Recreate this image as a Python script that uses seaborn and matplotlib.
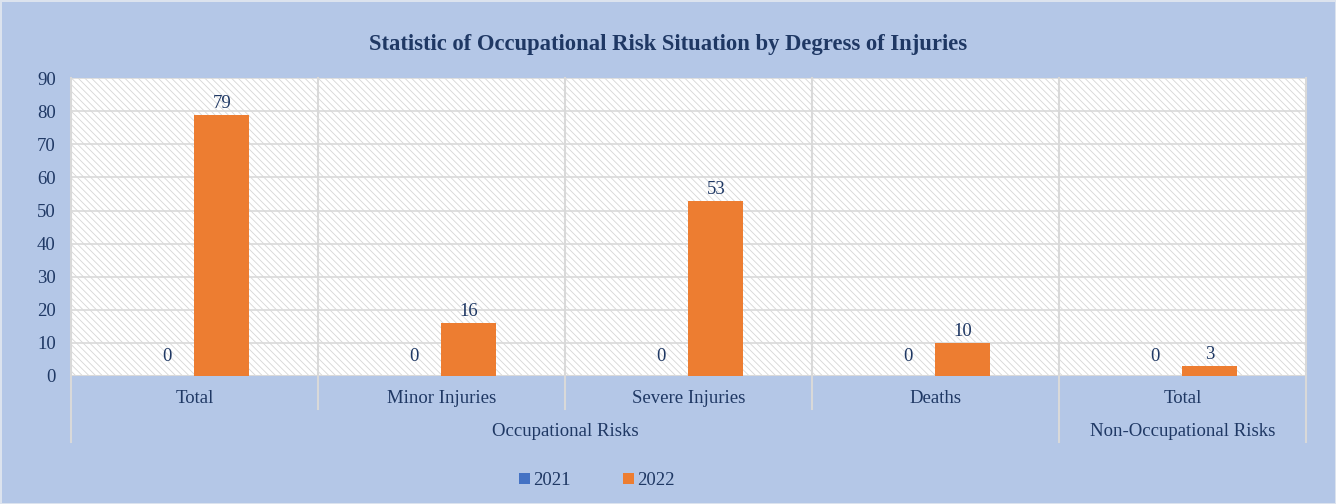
import pandas as pd
import seaborn as sns
import matplotlib.pyplot as plt
from matplotlib.patches import Patch, Rectangle

# Chart data
categories = ['Total', 'Minor Injuries', 'Severe Injuries', 'Deaths', 'Total ']
groups = ['Occupational Risks', 'Non-Occupational Risks']
group_spans = [(0, 3), (4, 4)]
years = ['2021', '2022']
values_2021 = [0, 0, 0, 0, 0]
values_2022 = [79, 16, 53, 10, 3]

bg = '#B4C7E7'
grid_col = '#D9D9D9'
text_col = '#1F3864'
colors = ['#4472C4', '#ED7D31']
fs = 13.5

plt.rcParams['font.family'] = ['Liberation Serif', 'DejaVu Serif']
plt.rcParams['hatch.color'] = '#D6D6D6'
plt.rcParams['hatch.linewidth'] = 0.6

df = pd.DataFrame({
    'category': categories * 2,
    'value': values_2021 + values_2022,
    'year': [years[0]] * len(categories) + [years[1]] * len(categories),
})

fig = plt.figure(figsize=(13.36, 5.04), dpi=100, facecolor=bg)
fig.patch.set_edgecolor('#DCE3EE')
fig.patch.set_linewidth(2)
ax = fig.add_axes([0.0531, 0.254, 0.9244, 0.591])

# Plot area: white with fine diagonal hatch
ax.add_patch(Rectangle((0, 0), 1, 1, transform=ax.transAxes, facecolor='white',
                       edgecolor='#D6D6D6', linewidth=0, hatch='\\\\\\\\\\',
                       zorder=0))

sns.barplot(data=df, x='category', y='value', hue='year', order=categories,
            palette=colors, saturation=1, width=0.445, ax=ax, legend=False,
            zorder=3)

ax.set_ylim(0, 90)
ax.set_yticks(range(0, 91, 10))
ax.set_xlim(-0.5, len(categories) - 0.5)
ax.set_xlabel('')
ax.set_ylabel('')
ax.yaxis.grid(True, color=grid_col, linewidth=1.2, zorder=1)
ax.set_axisbelow(True)
for s in ax.spines.values():
    s.set_visible(False)
ax.tick_params(axis='both', length=0, labelsize=fs, labelcolor=text_col)
ax.tick_params(axis='x', pad=10)
ax.tick_params(axis='y', pad=11)
ax.set_xticks(range(len(categories)))
ax.set_xticklabels([c.strip() for c in categories])

# Bottom axis line
ax.axhline(0, color=grid_col, linewidth=1.5, zorder=2)

# Category separators, extended below the axis
trans = ax.get_xaxis_transform()
group_edges = {-0.5}
for a, b in group_spans:
    group_edges.add(b + 0.5)
for i in range(len(categories) + 1):
    xe = i - 0.5
    low = -0.221 if xe in group_edges else -0.111
    ax.plot([xe, xe], [low, 1], color=grid_col, linewidth=1.5,
            transform=trans, clip_on=False, zorder=2)

# Group labels
for name, (a, b) in zip(groups, group_spans):
    ax.text((a + b) / 2, -0.185, name, transform=trans, ha='center',
            va='center', fontsize=fs, color=text_col)

# Value labels
ax.bar_label(ax.containers[0], padding=8, fontsize=fs, color=text_col)
ax.bar_label(ax.containers[1], padding=2, fontsize=fs, color=text_col)

fig.suptitle('Statistic of Occupational Risk Situation by Degress of Injuries',
             y=0.911, va='center', fontsize=16.3, fontweight='bold', color=text_col)

handles = [Patch(facecolor=c, label=y) for c, y in zip(colors, years)]
fig.legend(handles=handles, loc='center', bbox_to_anchor=(0.447, 0.046), ncol=2,
           frameon=False, fontsize=fs, handlelength=0.55, handleheight=0.55,
           handletextpad=0.2, columnspacing=2.8, labelcolor=text_col)

fig.savefig('out.png', dpi=100, facecolor=bg)
